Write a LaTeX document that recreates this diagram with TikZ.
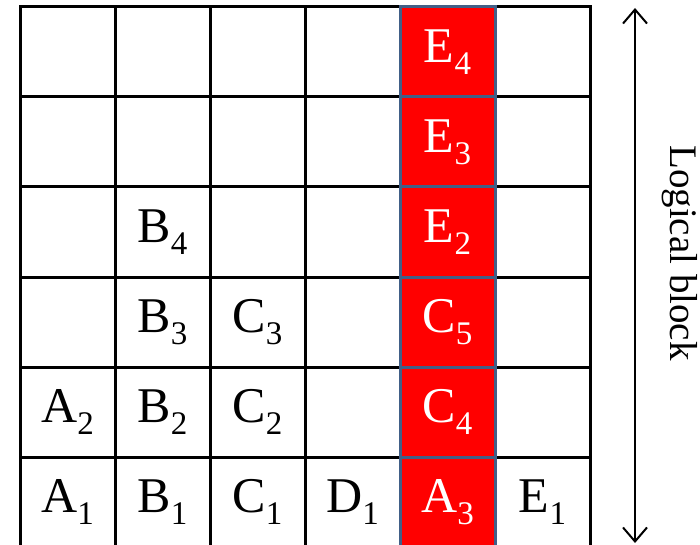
\documentclass[tikz,border=0pt]{standalone}
\usepackage{fontspec}
\setmainfont{Liberation Serif}
\usetikzlibrary{arrows.meta}

\definecolor{colblue}{RGB}{65,95,135}
\newcommand{\cellfont}{\fontsize{50}{60}\selectfont}
\newcommand{\blocksub}[2]{#1\raisebox{-0.24em}{\fontsize{33}{33}\selectfont #2}}

\begin{document}
\begin{tikzpicture}[
      x=1pt, y=-1pt,
      cell/.style={draw=black, line width=3pt, minimum width=95pt, minimum height=90pt, inner sep=0pt},
      hot/.style={cell, fill=red, draw=colblue, text=white, font=\cellfont},
      blk/.style={inner sep=0pt, font=\cellfont},
      dir/.style={{Straight Barb[length=14pt, width=24pt]}-{Straight Barb[length=14pt, width=24pt]}, line width=2pt}
    ]
    \useasboundingbox (0,0) rectangle (700,545);
    % grid of empty cells
    \foreach \r in {1,...,6}
      \foreach \c in {1,...,6}
        \node[cell] (c\r\c) at ({20+95*(\c-0.5)}, {7+90*(\r-0.5)}) {};
    % marked column
    \foreach \r/\l/\s in {1/E/4, 2/E/3, 3/E/2, 4/C/5, 5/C/4, 6/A/3}
      \node[hot] (h\r) at (c\r5) {\blocksub{\l}{\s}};
    % blocks in the other cells
    \foreach \r/\c/\l/\s in {3/2/B/4, 4/2/B/3, 4/3/C/3, 5/1/A/2, 5/2/B/2, 5/3/C/2,
                            6/1/A/1, 6/2/B/1, 6/3/C/1, 6/4/D/1, 6/6/E/1}
      \node[blk] (b\r\c) at (c\r\c) {\blocksub{\l}{\s}};
    \coordinate (top) at (635,8);
    \coordinate (bot) at (635,543);
    \draw[dir] (bot) -- (top);
    \node[font=\fontsize{39}{47}\selectfont, rotate=-90] (lbl) at (680,253) {Logical block};
  \end{tikzpicture}
\end{document}
